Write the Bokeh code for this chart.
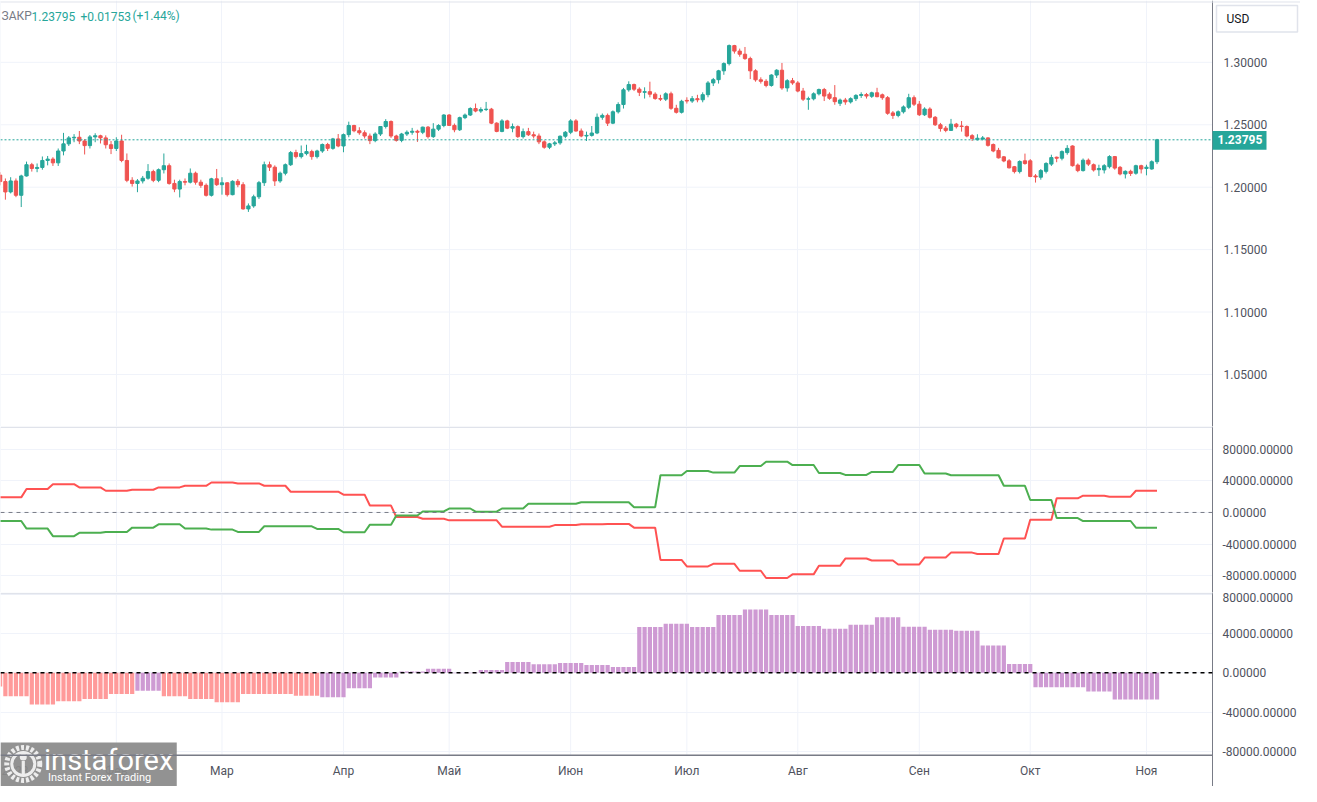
from bokeh.plotting import figure
from bokeh.models import Range1d, FixedTicker, PrintfTickFormatter, Span, ColumnDataSource
from bokeh.layouts import column
from bokeh.embed import file_html
from bokeh.resources import INLINE
from bokeh.core.properties import value

# ---------------- DATA ----------------
# daily candles, trading-day index 0 = 2 Jan 2023 ... 219 = 3 Nov 2023
opens = [
 1.2097, 1.2045, 1.1962, 1.2050, 1.1935, 1.2090, 1.2180, 1.2150, 1.2158, 1.2214,
 1.2225, 1.2195, 1.2290, 1.2347, 1.2395, 1.2400, 1.2370, 1.2333, 1.2403, 1.2412,
 1.2395, 1.2340, 1.2310, 1.2370, 1.2214, 1.2055, 1.2030, 1.2050, 1.2072, 1.2125,
 1.2055, 1.2140, 1.2172, 1.2030, 1.1985, 1.2045, 1.2040, 1.2112, 1.2040, 1.2015,
 1.1935, 1.2067, 1.2020, 1.2035, 1.1940, 1.2047, 1.2020, 1.1826, 1.1850, 1.1923,
 1.2036, 1.2180, 1.2160, 1.2050, 1.2112, 1.2180, 1.2277, 1.2245, 1.2269, 1.2285,
 1.2245, 1.2290, 1.2342, 1.2311, 1.2387, 1.2330, 1.2421, 1.2494, 1.2452, 1.2436,
 1.2410, 1.2373, 1.2426, 1.2486, 1.2526, 1.2410, 1.2375, 1.2426, 1.2440, 1.2448,
 1.2440, 1.2481, 1.2405, 1.2465, 1.2494, 1.2578, 1.2495, 1.2460, 1.2557, 1.2578,
 1.2630, 1.2610, 1.2622, 1.2625, 1.2513, 1.2447, 1.2531, 1.2473, 1.2485, 1.2405,
 1.2445, 1.2420, 1.2410, 1.2363, 1.2320, 1.2347, 1.2355, 1.2408, 1.2440, 1.2531,
 1.2450, 1.2410, 1.2415, 1.2434, 1.2560, 1.2575, 1.2513, 1.2604, 1.2662, 1.2780,
 1.2822, 1.2785, 1.2760, 1.2765, 1.2745, 1.2710, 1.2705, 1.2748, 1.2632, 1.2600,
 1.2695, 1.2690, 1.2709, 1.2700, 1.2741, 1.2835, 1.2861, 1.2932, 1.2990, 1.3134,
 1.3090, 1.3065, 1.3030, 1.2932, 1.2860, 1.2848, 1.2815, 1.2898, 1.2937, 1.2795,
 1.2853, 1.2835, 1.2770, 1.2705, 1.2708, 1.2748, 1.2782, 1.2745, 1.2717, 1.2672,
 1.2698, 1.2683, 1.2709, 1.2735, 1.2742, 1.2728, 1.2756, 1.2740, 1.2717, 1.2595,
 1.2575, 1.2604, 1.2640, 1.2717, 1.2665, 1.2580, 1.2626, 1.2560, 1.2500, 1.2473,
 1.2455, 1.2505, 1.2490, 1.2486, 1.2413, 1.2380, 1.2385, 1.2395, 1.2342, 1.2295,
 1.2243, 1.2211, 1.2164, 1.2125, 1.2211, 1.2211, 1.2090, 1.2080, 1.2127, 1.2185,
 1.2240, 1.2232, 1.2277, 1.2330, 1.2177, 1.2133, 1.2216, 1.2180, 1.2140, 1.2138,
 1.2164, 1.2245, 1.2159, 1.2106, 1.2127, 1.2112, 1.2172, 1.2150, 1.2146, 1.2204]
highs = [
 1.2120, 1.2070, 1.2080, 1.2070, 1.2100, 1.2205, 1.2195, 1.2190, 1.2246, 1.2250,
 1.2240, 1.2310, 1.2435, 1.2410, 1.2425, 1.2450, 1.2385, 1.2418, 1.2432, 1.2420,
 1.2415, 1.2370, 1.2400, 1.2420, 1.2270, 1.2080, 1.2065, 1.2090, 1.2185, 1.2140,
 1.2150, 1.2270, 1.2190, 1.2060, 1.2060, 1.2070, 1.2150, 1.2125, 1.2060, 1.2030,
 1.2075, 1.2146, 1.2080, 1.2040, 1.2055, 1.2065, 1.2040, 1.1870, 1.1940, 1.2050,
 1.2205, 1.2205, 1.2175, 1.2125, 1.2190, 1.2290, 1.2300, 1.2334, 1.2340, 1.2300,
 1.2300, 1.2350, 1.2355, 1.2395, 1.2426, 1.2430, 1.2525, 1.2500, 1.2480, 1.2455,
 1.2430, 1.2440, 1.2490, 1.2545, 1.2535, 1.2420, 1.2435, 1.2455, 1.2475, 1.2460,
 1.2485, 1.2490, 1.2513, 1.2505, 1.2585, 1.2585, 1.2510, 1.2565, 1.2590, 1.2640,
 1.2670, 1.2640, 1.2683, 1.2635, 1.2520, 1.2545, 1.2540, 1.2510, 1.2495, 1.2470,
 1.2475, 1.2445, 1.2430, 1.2375, 1.2355, 1.2370, 1.2415, 1.2450, 1.2545, 1.2545,
 1.2470, 1.2445, 1.2490, 1.2590, 1.2590, 1.2590, 1.2615, 1.2680, 1.2795, 1.2848,
 1.2830, 1.2800, 1.2800, 1.2845, 1.2760, 1.2740, 1.2760, 1.2765, 1.2660, 1.2700,
 1.2720, 1.2730, 1.2740, 1.2760, 1.2850, 1.2875, 1.2940, 1.3000, 1.3143, 1.3140,
 1.3110, 1.3123, 1.3045, 1.2945, 1.2880, 1.2865, 1.2905, 1.2945, 1.2995, 1.2865,
 1.2875, 1.2850, 1.2795, 1.2725, 1.2760, 1.2790, 1.2795, 1.2760, 1.2818, 1.2710,
 1.2715, 1.2720, 1.2745, 1.2760, 1.2755, 1.2765, 1.2796, 1.2750, 1.2730, 1.2610,
 1.2615, 1.2655, 1.2748, 1.2735, 1.2690, 1.2640, 1.2640, 1.2570, 1.2515, 1.2490,
 1.2547, 1.2515, 1.2530, 1.2495, 1.2425, 1.2424, 1.2410, 1.2400, 1.2350, 1.2315,
 1.2250, 1.2225, 1.2170, 1.2215, 1.2269, 1.2225, 1.2105, 1.2145, 1.2200, 1.2260,
 1.2245, 1.2295, 1.2337, 1.2335, 1.2190, 1.2230, 1.2230, 1.2190, 1.2180, 1.2185,
 1.2256, 1.2250, 1.2170, 1.2135, 1.2140, 1.2180, 1.2180, 1.2180, 1.2215, 1.2387]
lows = [
 1.2015, 1.1900, 1.1950, 1.1920, 1.1841, 1.2085, 1.2125, 1.2120, 1.2140, 1.2175,
 1.2170, 1.2170, 1.2255, 1.2330, 1.2360, 1.2345, 1.2262, 1.2310, 1.2360, 1.2350,
 1.2310, 1.2265, 1.2290, 1.2200, 1.2040, 1.2005, 1.1960, 1.2030, 1.2060, 1.2040,
 1.2040, 1.2110, 1.2020, 1.1960, 1.1918, 1.2015, 1.2030, 1.2020, 1.1995, 1.1925,
 1.1925, 1.2010, 1.1940, 1.1925, 1.1935, 1.2000, 1.1820, 1.1802, 1.1835, 1.1905,
 1.2010, 1.2130, 1.2010, 1.2035, 1.2095, 1.2170, 1.2230, 1.2230, 1.2255, 1.2220,
 1.2230, 1.2275, 1.2290, 1.2300, 1.2320, 1.2280, 1.2400, 1.2440, 1.2420, 1.2390,
 1.2345, 1.2360, 1.2410, 1.2470, 1.2395, 1.2365, 1.2360, 1.2410, 1.2420, 1.2363,
 1.2425, 1.2390, 1.2395, 1.2450, 1.2480, 1.2490, 1.2440, 1.2450, 1.2545, 1.2570,
 1.2600, 1.2595, 1.2610, 1.2505, 1.2440, 1.2440, 1.2465, 1.2440, 1.2395, 1.2390,
 1.2410, 1.2390, 1.2345, 1.2308, 1.2305, 1.2330, 1.2340, 1.2392, 1.2425, 1.2445,
 1.2400, 1.2370, 1.2405, 1.2425, 1.2540, 1.2490, 1.2505, 1.2590, 1.2630, 1.2765,
 1.2770, 1.2730, 1.2710, 1.2720, 1.2700, 1.2690, 1.2690, 1.2620, 1.2590, 1.2590,
 1.2670, 1.2675, 1.2680, 1.2680, 1.2720, 1.2810, 1.2830, 1.2900, 1.2975, 1.3070,
 1.3045, 1.3020, 1.2866, 1.2845, 1.2830, 1.2800, 1.2805, 1.2875, 1.2780, 1.2765,
 1.2820, 1.2760, 1.2690, 1.2620, 1.2695, 1.2735, 1.2690, 1.2700, 1.2660, 1.2650,
 1.2660, 1.2670, 1.2690, 1.2715, 1.2710, 1.2715, 1.2720, 1.2700, 1.2580, 1.2547,
 1.2560, 1.2590, 1.2625, 1.2650, 1.2570, 1.2570, 1.2550, 1.2490, 1.2445, 1.2440,
 1.2450, 1.2470, 1.2445, 1.2400, 1.2370, 1.2375, 1.2375, 1.2325, 1.2280, 1.2230,
 1.2200, 1.2150, 1.2110, 1.2110, 1.2180, 1.2080, 1.2037, 1.2060, 1.2110, 1.2170,
 1.2200, 1.2215, 1.2260, 1.2165, 1.2120, 1.2125, 1.2170, 1.2125, 1.2090, 1.2110,
 1.2150, 1.2140, 1.2095, 1.2070, 1.2090, 1.2100, 1.2110, 1.2095, 1.2140, 1.2185]
closes = [
 1.2045, 1.1962, 1.2050, 1.1935, 1.2090, 1.2180, 1.2150, 1.2158, 1.2214, 1.2225,
 1.2195, 1.2290, 1.2347, 1.2395, 1.2400, 1.2370, 1.2333, 1.2403, 1.2412, 1.2395,
 1.2340, 1.2310, 1.2370, 1.2214, 1.2055, 1.2030, 1.2050, 1.2072, 1.2125, 1.2055,
 1.2140, 1.2172, 1.2030, 1.1985, 1.2045, 1.2040, 1.2112, 1.2040, 1.2015, 1.1935,
 1.2067, 1.2020, 1.2035, 1.1940, 1.2047, 1.2020, 1.1826, 1.1850, 1.1923, 1.2036,
 1.2180, 1.2160, 1.2050, 1.2112, 1.2180, 1.2277, 1.2245, 1.2269, 1.2285, 1.2245,
 1.2290, 1.2342, 1.2311, 1.2387, 1.2330, 1.2421, 1.2494, 1.2452, 1.2436, 1.2410,
 1.2373, 1.2426, 1.2486, 1.2526, 1.2410, 1.2375, 1.2426, 1.2440, 1.2448, 1.2440,
 1.2481, 1.2405, 1.2465, 1.2494, 1.2578, 1.2495, 1.2460, 1.2557, 1.2578, 1.2630,
 1.2610, 1.2622, 1.2625, 1.2513, 1.2447, 1.2531, 1.2473, 1.2485, 1.2405, 1.2445,
 1.2420, 1.2410, 1.2363, 1.2320, 1.2347, 1.2355, 1.2408, 1.2440, 1.2531, 1.2450,
 1.2410, 1.2415, 1.2434, 1.2560, 1.2575, 1.2513, 1.2604, 1.2662, 1.2780, 1.2822,
 1.2785, 1.2760, 1.2765, 1.2745, 1.2710, 1.2705, 1.2748, 1.2632, 1.2600, 1.2688,
 1.2690, 1.2709, 1.2700, 1.2741, 1.2835, 1.2861, 1.2932, 1.2990, 1.3134, 1.3090,
 1.3065, 1.3030, 1.2932, 1.2860, 1.2848, 1.2815, 1.2898, 1.2937, 1.2795, 1.2853,
 1.2835, 1.2770, 1.2705, 1.2708, 1.2748, 1.2782, 1.2730, 1.2712, 1.2685, 1.2698,
 1.2683, 1.2709, 1.2735, 1.2742, 1.2730, 1.2756, 1.2725, 1.2717, 1.2592, 1.2575,
 1.2604, 1.2643, 1.2717, 1.2665, 1.2580, 1.2626, 1.2560, 1.2500, 1.2470, 1.2455,
 1.2505, 1.2485, 1.2486, 1.2410, 1.2390, 1.2392, 1.2395, 1.2335, 1.2290, 1.2235,
 1.2210, 1.2155, 1.2125, 1.2206, 1.2190, 1.2086, 1.2082, 1.2133, 1.2190, 1.2237,
 1.2232, 1.2285, 1.2311, 1.2172, 1.2133, 1.2216, 1.2185, 1.2138, 1.2150, 1.2172,
 1.2245, 1.2153, 1.2106, 1.2127, 1.2110, 1.2172, 1.2146, 1.2160, 1.2204, 1.23795]
days = list(range(len(closes)))

last_price = 1.23795
price_ticks = [1.05, 1.10, 1.15, 1.20, 1.25, 1.30]

# month starts (trading-day index) and labels of the time axis
month_idx = [0, 22, 42, 65, 85, 108, 130, 151, 174, 195, 217]
month_lbl = ["2023", "Фев", "Мар", "Апр", "Май", "Июн", "Июл", "Авг", "Сен", "Окт", "Ноя"]

# weekly COT values (one value per week, 44 weeks shown as steps)
cot_green = [-10800, -20400, -30000, -25800, -24600, -19200, -15000, -20400, -21700, -24600,
             -17500, -17500, -20800, -25000, -15400, -3750, 1250, 5000, 1000, 5000,
             11000, 11000, 12900, 12900, 6700, 47100, 52500, 50400, 58750, 64200,
             60000, 50000, 47500, 51250, 60000, 49200, 47100, 47100, 33750, 15800,
             -7100, -10800, -10800, -19200]
cot_red = [19100, 29600, 35800, 31700, 27500, 28750, 31700, 33750, 37900, 36700,
           33750, 26250, 26250, 22500, 8750, -5800, -8000, -10000, -10000, -18000,
           -18000, -16000, -15000, -14500, -19200, -60000, -68300, -65000, -73750, -82900,
           -78300, -67500, -58300, -60800, -65800, -57100, -50800, -52500, -32900, -9200,
           17900, 21250, 20000, 27500]
# weekly net-position histogram (45 weeks) and its colour group
net_hist = [-14000, -24000, -32300, -29000, -26700, -21700, -18300, -24000, -26700, -30000,
            -21700, -21700, -23300, -25000, -15700, -4700, 1300, 4300, -500, 3000,
            11000, 8700, 10000, 8000, 6000, 46700, 50000, 46700, 59000, 64700,
            59000, 47700, 45000, 49000, 56700, 47000, 44000, 43000, 28000, 9000,
            -14700, -14700, -19000, -27300, -27300]
net_group = ["s", "s", "s", "s", "s", "s", "v", "s", "s", "s",
             "s", "s", "s", "v", "v", "v", "v", "v", "v", "v",
             "v", "v", "v", "v", "v", "v", "v", "v", "v", "v",
             "v", "v", "v", "v", "v", "v", "v", "v", "v", "v",
             "v", "v", "v", "v", "v"]

# ---------------- STYLE ----------------
UP, DOWN = "#26A69A", "#EF5350"
GRID = "#F0F3FA"
SEP = "#E0E3EB"
AXIS = "#787B86"
TXT = "#50535E"
FONT = "Roboto"
FW = 1212            # width of the plotting area (px)
TOTAL_W = 1300
X0, X1 = 0.075, 229.5
PXD = FW / (X1 - X0)  # px per trading day
xr = Range1d(X0, X1)


def ix(px):      # reference pixel column -> trading-day coordinate
    return (px + 0.4) / 5.335


def make_fig(fh, yr, ticks):
    p = figure(frame_width=FW, frame_height=fh, x_range=xr, y_range=yr,
               y_axis_location="right", x_axis_location=None,
               toolbar_location=None, output_backend="svg", min_border=0)
    p.outline_line_color = None
    ax = p.yaxis[0]
    ax.ticker = FixedTicker(ticks=ticks)
    ax.formatter = PrintfTickFormatter(format="%.5f")
    ax.major_tick_in = 0
    ax.major_tick_out = 0
    ax.minor_tick_in = 0
    ax.minor_tick_out = 0
    ax.axis_line_color = AXIS
    ax.axis_line_width = 1
    ax.major_label_text_font = FONT
    ax.major_label_text_font_size = "12px"
    ax.major_label_text_color = TXT
    ax.major_label_standoff = 10
    p.ygrid.grid_line_color = GRID
    p.xgrid.ticker = FixedTicker(ticks=month_idx)
    p.xgrid.grid_line_color = GRID
    return p


# ---------------- PRICE PANE (frame spans full width, price scale drawn inside) -------------
PY0, PY1 = 1.00833, 1.34953
p1 = figure(frame_width=TOTAL_W, frame_height=426,
            x_range=Range1d(X0, X0 + TOTAL_W / PXD), y_range=Range1d(PY0, PY1),
            x_axis_location=None, y_axis_location=None,
            toolbar_location=None, output_backend="svg", min_border=0)
p1.outline_line_color = None
p1.ygrid.visible = False
p1.xgrid.ticker = FixedTicker(ticks=month_idx)
p1.xgrid.grid_line_color = GRID
p1.segment(x0=[X0] * len(price_ticks), y0=price_ticks, x1=[X1] * len(price_ticks),
           y1=price_ticks, line_color=GRID, line_width=1)

colors = [UP if c >= o else DOWN for o, c in zip(opens, closes)]
src = ColumnDataSource(dict(x=days, h=highs, l=lows,
                            top=[max(o, c) for o, c in zip(opens, closes)],
                            bot=[min(o, c) for o, c in zip(opens, closes)],
                            col=colors))
p1.segment(x0="x", y0="l", x1="x", y1="h", line_color="col", line_width=1, source=src)
p1.vbar(x="x", width=0.62, top="top", bottom="bot", fill_color="col", line_color="col",
        line_width=1, source=src)
p1.segment(x0=[X0], y0=[last_price], x1=[X1], y1=[last_price], line_color=UP,
           line_dash="2 2", line_width=1)
p1.add_layout(Span(location=PY1 - 0.0012, dimension="width", line_color=SEP, line_width=1))

# price scale
p1.segment(x0=[X1], y0=[PY0], x1=[X1], y1=[PY1], line_color=AXIS, line_width=1)
p1.text(x=[X1] * len(price_ticks), y=price_ticks, text=["%.5f" % t for t in price_ticks],
        x_offset=11, text_align="left", text_baseline="middle", text_color=TXT,
        text_font=value(FONT), text_font_size=value("12px"))
# last-price tag
tag_top = 1.30 - (133 - 63) / 1272.0
tag_bot = 1.30 - (152 - 63) / 1272.0
p1.quad(left=[X1], right=[X1 + 54 / PXD], top=[tag_top], bottom=[tag_bot],
        fill_color=UP, line_color=None)
p1.text(x=[X1], y=[last_price], text=["%.5f" % last_price], x_offset=5,
        text_align="left", text_baseline="middle", text_color="white",
        text_font=value(FONT), text_font_size=value("12px"), text_font_style="bold")
# currency box
p1.quad(left=[X1 + 4 / PXD], right=[X1 + 85 / PXD], top=[1.30 + (63 - 5) / 1272.0],
        bottom=[1.30 + (63 - 32) / 1272.0], fill_color="white", line_color=SEP, line_width=1.5)
p1.text(x=[X1 + 4 / PXD], y=[1.30 + (63 - 18.5) / 1272.0], text=["USD"], x_offset=10,
        text_align="left", text_baseline="middle", text_color="#131722",
        text_font=value(FONT), text_font_size=value("12px"))

# legend line at the top-left
ty = 1.30 + (63 - 16) / 1272.0
p1.text(x=[X0], y=[ty], text=["ЗАКР"], x_offset=1, text_align="left",
        text_baseline="middle", text_color=AXIS, text_font=value(FONT),
        text_font_size=value("12px"))
p1.text(x=[X0, X0, X0], y=[ty, ty, ty], text=["1.23795", "+0.01753", "(+1.44%)"],
        x_offset=[31, 80, 132], text_align="left", text_baseline="middle",
        text_color=UP, text_font=value(FONT), text_font_size=value("12px"))

# ---------------- COT LINES PANE ----------------
p2 = make_fig(166, Range1d(-101250, 108750), [-80000, -40000, 0, 40000, 80000])
green_daily = [cot_green[d // 5] for d in days]
red_daily = [cot_red[d // 5] for d in days]
p2.line(days, red_daily, line_color="#FF5252", line_width=2)
p2.line(days, green_daily, line_color="#4CAF50", line_width=2)
p2.add_layout(Span(location=0, dimension="width", line_color=AXIS, line_dash="4 4", line_width=1))
p2.add_layout(Span(location=108750 - 900, dimension="width", line_color=SEP, line_width=1.5))

# ---------------- HISTOGRAM PANE ----------------
p3 = make_fig(194, Range1d(-116000, 82000), [-80000, -40000, 0, 40000, 80000])
p3.xgrid.visible = False
p3.segment(x0=month_idx, y0=[-84000] * len(month_idx), x1=month_idx,
           y1=[82000] * len(month_idx), line_color=GRID, line_width=1)
hist_daily = [net_hist[(d + 4) // 5] for d in days]
hist_col = ["#FF9A9A" if net_group[(d + 4) // 5] == "s" else "#CE9AD3" for d in days]
p3.vbar(x=days, top=hist_daily, bottom=0, width=0.8, fill_color=hist_col, line_color=None)
p3.add_layout(Span(location=0, dimension="width", line_color="black", line_dash="4 4",
                   line_width=1.5))
p3.add_layout(Span(location=82000 - 900, dimension="width", line_color=SEP, line_width=1.5))
p3.add_layout(Span(location=-84000, dimension="width", line_color=AXIS, line_width=1.5))
# time axis labels
p3.text(x=[X0], y=[-100000], text=[month_lbl[0]], x_offset=1, text_align="left",
        text_baseline="middle", text_color=TXT, text_font=value(FONT),
        text_font_size=value("12px"))
p3.text(x=month_idx[1:], y=[-100000] * (len(month_idx) - 1), text=month_lbl[1:],
        text_align="center", text_baseline="middle", text_color=TXT,
        text_font=value(FONT), text_font_size=value("12px"))

# logo (bottom-left watermark)
p3.quad(left=[X0], right=[ix(178)], top=[(686 - 757) * 1000], bottom=[-116000],
        fill_color="#8A8A8A", fill_alpha=0.93, line_color=None)
p3.scatter(x=[ix(23)], y=[(686 - 779) * 1000], size=33, marker="circle", fill_color=None,
           line_color="#EDEDED", line_width=5, line_dash="3 2")
p3.scatter(x=[ix(23)], y=[(686 - 779) * 1000], size=23, marker="circle", fill_color=None,
           line_color="#EDEDED", line_width=3)
p3.scatter(x=[ix(23)], y=[(686 - 772) * 1000], size=7, marker="circle", fill_color="#EDEDED",
           line_color=None)
p3.vbar(x=[ix(23)], width=0.6, top=[(686 - 776) * 1000], bottom=[(686 - 791) * 1000],
        fill_color="#EDEDED", line_color=None)
p3.text(x=[ix(44)], y=[(686 - 775) * 1000], text=["instaforex"], text_align="left",
        text_baseline="middle", text_color="white", text_font=value(FONT),
        text_font_size=value("29px"))
p3.text(x=[ix(48)], y=[(686 - 793) * 1000], text=["Instant Forex Trading"], text_align="left",
        text_baseline="middle", text_color="white", text_font=value(FONT),
        text_font_size=value("11px"))

layout = column(p1, p2, p3, spacing=0)
open("out.html", "w").write(file_html(layout, INLINE))
